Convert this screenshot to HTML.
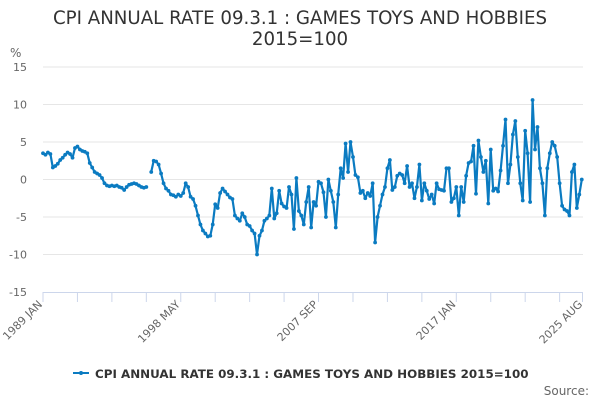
<!DOCTYPE html>
<html><head><meta charset="utf-8"><style>
body{margin:0;background:#fff}
svg{display:block;font-family:"DejaVu Sans","Liberation Sans",sans-serif}
</style></head><body>
<svg id="chart" width="600" height="400">
<text x="300" y="24" text-anchor="middle" font-size="18.2" fill="#333">CPI ANNUAL RATE 09.3.1 : GAMES TOYS AND HOBBIES</text>
<text x="300" y="45" text-anchor="middle" font-size="18.2" fill="#333">2015=100</text>
<text x="10" y="57" font-size="12" fill="#666">%</text>
<g id="grid"></g>
<g id="xaxis"></g>
<g id="series"></g>
<g>
<line x1="73" y1="373" x2="89" y2="373" stroke="#0b7bc1" stroke-width="2"/>
<circle cx="81" cy="373" r="2" fill="#0b7bc1"/>
<text x="95" y="378" font-size="11.9" font-weight="bold" fill="#333">CPI ANNUAL RATE 09.3.1 : GAMES TOYS AND HOBBIES 2015=100</text>
</g>
<text x="589" y="395" text-anchor="end" font-size="12" fill="#666">Source:</text>
</svg>
<script>
const yTicks=[15,10,5,0,-5,-10,-15];
const xTickLabels=["1989 JAN","1998 MAY","2007 SEP","2017 JAN","2025 AUG"];
const xTickMonths=[0,112,224,336,439];
const totalMonths=439;
const stepMonths=2;
const values=[3.5,3.3,3.6,3.4,1.6,1.8,2.1,2.6,2.9,3.3,3.6,3.4,2.9,4.2,4.4,4.0,3.8,3.7,3.5,2.2,1.6,1.0,0.8,0.6,0.2,-0.5,-0.8,-0.9,-0.8,-0.9,-0.8,-1.0,-1.1,-1.4,-1.0,-0.7,-0.6,-0.5,-0.6,-0.8,-1.0,-1.1,-1.0,null,1.0,2.5,2.4,2.0,0.8,-0.5,-1.2,-1.5,-2.0,-2.1,-2.3,-2.0,-2.2,-1.8,-0.5,-1.0,-2.3,-2.6,-3.5,-4.8,-6.0,-6.8,-7.2,-7.6,-7.5,-6.0,-3.3,-3.8,-1.8,-1.2,-1.6,-2.0,
-2.4,-2.6,-4.8,-5.2,-5.5,-4.5,-5.0,-6.0,-6.2,-6.8,-7.2,-10.0,-7.5,-6.8,-5.5,-5.2,-4.8,-1.2,-5.2,-4.5,-1.5,-3.2,-3.6,-3.8,-1.0,-2.0,-6.6,0.2,-4.2,-4.8,-6.0,-3.0,-1.0,-6.4,-3.0,-3.5,-0.3,-0.5,-1.7,-5.0,0,-1.5,-3.0,-6.4,-2.0,1.5,0.2,4.8,1.0,5.0,3.0,0.6,0.3,-1.8,-1.5,-2.5,-1.8,-2.2,-0.5,-8.4,-5.0,-3.5,-2.0,-1.0,1.5,2.6,-1.4,-1.0,0.5,0.8,0.6,
-0.5,1.8,-1.0,-0.5,-2.5,-1.0,2.0,-2.8,-0.5,-1.5,-2.6,-2.0,-3.2,-0.5,-1.3,-1.4,-1.5,1.5,1.5,-3.0,-2.5,-1.0,-4.8,-1.0,-3.0,0.5,2.2,2.4,4.5,-1.9,5.2,3.0,1.0,2.5,-3.2,4.0,-1.5,-1.2,-1.6,1.2,4.5,8.0,-0.5,2.0,6.0,7.8,3.0,-0.5,-2.8,6.5,3.5,-3.0,10.6,4.0,7.0,1.5,-0.5,-4.8,1.5,3.5,5.0,4.5,3.0,-0.5,-3.5,-4.0,-4.2,-4.8,1.0,2.0,-3.8,-2.0,0.0];
const NS="http://www.w3.org/2000/svg";
const X0=43,X1=583,Y0=67,Y1=292;
function xs(m){return X0+(X1-X0)*m/totalMonths;}
function ys(v){return Y1-(v+15)/30*(Y1-Y0);}
function mk(t,a,p){const e=document.createElementNS(NS,t);for(const k in a)e.setAttribute(k,a[k]);p.appendChild(e);return e;}
const grid=document.getElementById('grid');
yTicks.forEach(v=>{
  if(v!==-15){const l=mk('line',{x1:X0,x2:X1,y1:ys(v),y2:ys(v),stroke:'#e6e6e6','stroke-width':1},grid);
  
  }
  const t=mk('text',{x:27,y:ys(v)+4,'text-anchor':'end','font-size':11,fill:'#666'},grid);
  
  
  t.textContent=v;
});
const xa=document.getElementById('xaxis');
mk('line',{x1:X0,x2:X1,y1:Y1+0.5,y2:Y1+0.5,stroke:'#ccd6eb','stroke-width':1},xa);
for(let m=0;m<=totalMonths;m+=28){mk('line',{x1:xs(m),x2:xs(m),y1:Y1,y2:Y1+10,stroke:'#ccd6eb'},xa);}
mk('line',{x1:X1-0.5,x2:X1-0.5,y1:Y1,y2:Y1+10,stroke:'#ccd6eb'},xa);
xTickLabels.forEach((s,i)=>{
  const x=xs(xTickMonths[i]),y=Y1+13;
  const t=mk('text',{x:x,y:y,'text-anchor':'end','font-size':11,fill:'#666',transform:`rotate(-45 ${x} ${y})`},xa);
  
  
  t.textContent=s;
});
const sg=document.getElementById('series');
let d='',pen=false;
values.forEach((v,i)=>{
  if(v===null){pen=false;return;}
  const x=xs(Math.min(i*stepMonths,totalMonths)),y=ys(v);
  d+=(pen?'L':'M')+x.toFixed(1)+' '+y.toFixed(1);pen=true;
});
const p=mk('path',{d:d,fill:'none',stroke:'#0b7bc1','stroke-width':2.2,'stroke-linejoin':'round'},sg);


values.forEach((v,i)=>{
  if(v===null)return;
  const c=mk('circle',{cx:xs(Math.min(i*stepMonths,totalMonths)),cy:ys(v),r:1.9,fill:'#0b7bc1'},sg);
  
  
});
</script>
</body></html>
